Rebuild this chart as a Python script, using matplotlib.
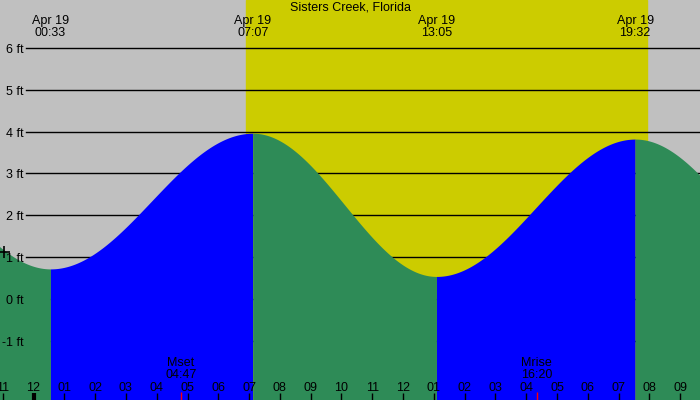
import numpy as np
import matplotlib
matplotlib.use("Agg")
import matplotlib.pyplot as plt
import matplotlib.transforms as mtransforms

# tide extremes, hours from midnight Apr 19 (first/last ones lie outside the view)
tide_times = [-5.6, 0.55, 7.117, 13.083, 19.533, 25.7]
tide_heights = [3.9, 0.72, 3.96, 0.54, 3.82, 0.5]
tide_labels = ["", "00:33", "07:07", "13:05", "19:32", ""]

sunrise, sunset = 6.9, 19.92
moon_events = [("Mset", "04:47", 4.783), ("Mrise", "16:20", 16.333)]
ft_levels = [6, 5, 4, 3, 2, 1, 0, -1]
hour_ticks = list(range(-1, 22))

plt.rcParams['font.family'] = ['Liberation Sans', 'DejaVu Sans']

fig = plt.figure(figsize=(7, 4), dpi=100)
ax = fig.add_axes([0, 0, 1, 1])
ax.set_xlim(-1.088, 21.64)
ax.set_ylim(-2.41, 7.14)
ax.axis("off")
fig.patch.set_facecolor("#C0C0C0")

# daylight
ax.axvspan(sunrise, sunset, color="#CCCC00", zorder=1)

# shift text down a couple of pixels
down = mtransforms.ScaledTranslation(0, -2 / 100, fig.dpi_scale_trans)

# level lines with labels
ya = mtransforms.blended_transform_factory(ax.transAxes, ax.transData)
for lv in ft_levels:
    ax.plot([26 / 700, 1], [lv, lv], color="black", lw=1, transform=ya, zorder=2)
    ax.text(24 / 700, lv, f"{lv} ft", transform=ya + down, ha="right", va="center",
            fontsize=9, zorder=5)

# tide curve: cosine between extremes
for i in range(len(tide_times) - 1):
    t0, t1 = tide_times[i], tide_times[i + 1]
    h0, h1 = tide_heights[i], tide_heights[i + 1]
    t = np.linspace(t0, t1, 200)
    h = h1 + (h0 - h1) * (1 + np.cos(np.pi * (t - t0) / (t1 - t0))) / 2
    col = "#0000FF" if h1 > h0 else "#2E8B57"
    ax.fill_between(t, -3, h, color=col, lw=0, zorder=3)

# extremes labels at top
xa = mtransforms.blended_transform_factory(ax.transData, ax.transAxes)
for tt, lab in zip(tide_times, tide_labels):
    if lab:
        ax.text(tt, 1 - 25 / 400, "Apr 19\n" + lab, transform=xa + down, ha="center",
                va="center", fontsize=9, linespacing=0.95, zorder=6)

ax.text(0.5, 1 - 6 / 400, "Sisters Creek, Florida", transform=ax.transAxes + down,
        ha="center", va="center", fontsize=9, zorder=6)

# hour ticks and labels
for hr in hour_ticks:
    lab = f"{(hr - 1) % 12 + 1:02d}"
    ax.text(hr, 1 - 386 / 400, lab, transform=xa + down, ha="center", va="center",
            fontsize=9, zorder=6)
    lw = 3 if hr == 0 else 1
    ax.plot([hr, hr], [0, 7 / 400], color="black", lw=lw, transform=xa,
            solid_capstyle="butt", zorder=6)

# moon events
for name, lab, tt in moon_events:
    ax.text(tt, 1 - 367 / 400, name + "\n" + lab, transform=xa + down, ha="center",
            va="center", fontsize=9, linespacing=0.95, zorder=6)
    ax.plot([tt, tt], [0, 8 / 400], color="red", lw=1, transform=xa,
            solid_capstyle="butt", zorder=6)

# current-time marker
now_t = -0.96
ax.plot([now_t], [1.13], marker="+", color="black", markersize=9, mew=1.2, zorder=7)

fig.savefig("out.png", dpi=100, facecolor=fig.get_facecolor())
